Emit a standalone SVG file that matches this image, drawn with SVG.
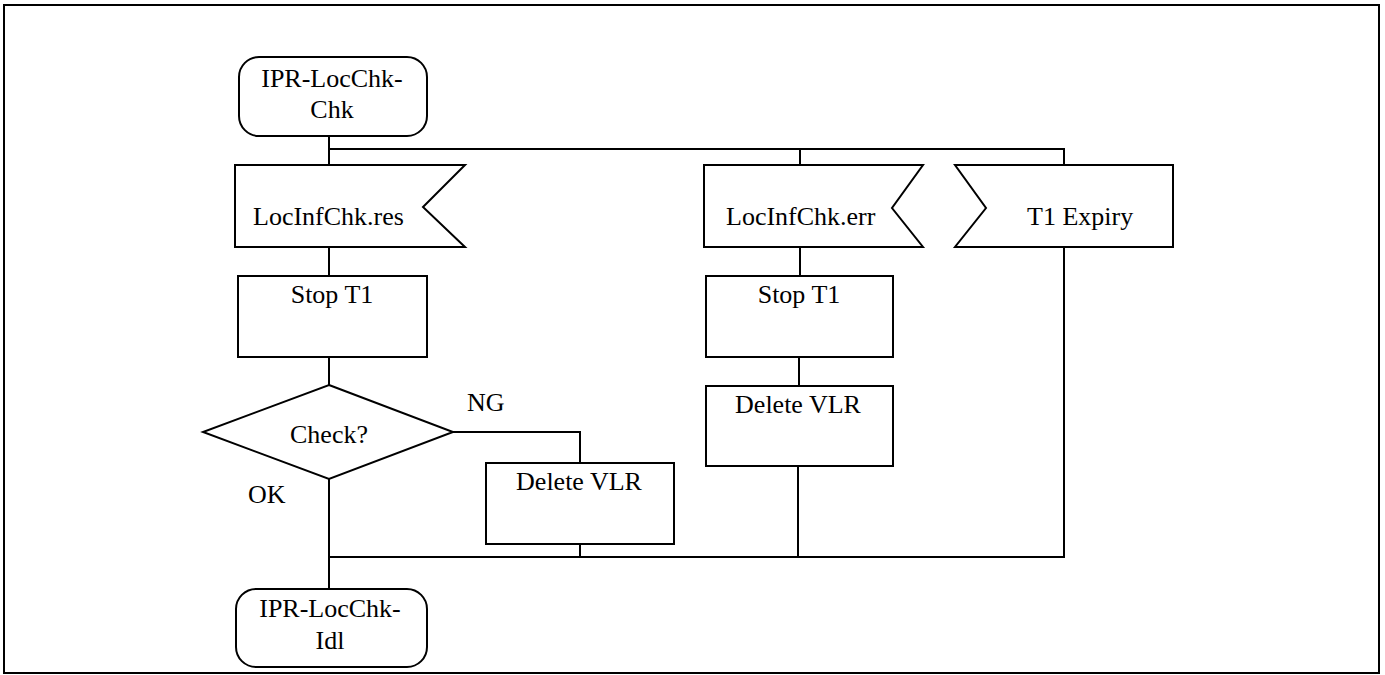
<svg xmlns="http://www.w3.org/2000/svg" width="1385" height="675" viewBox="0 0 1385 675">
<style>
.s{fill:#fff;stroke:#000;stroke-width:2}
.c{fill:none;stroke:#000;stroke-width:2}
.t{font-family:'Liberation Serif','Times New Roman',serif;font-size:26px;fill:#000}
.m{text-anchor:middle}
</style>
<rect x="0" y="0" width="1385" height="675" fill="#fff"/>
<rect x="4" y="5" width="1375" height="668" class="c"/>
<g id="connectors">
<path class="c" d="M329 136V165M329 149H1064V165M800 149V165M329 247V276M329 357V385M329 479V590M453 432H580V463M580 544V557M329 557H1064V247M800 247V276M799 357V386M798 466V557"/>
</g>
<g id="start">
<rect class="s" x="239" y="57" width="188" height="79" rx="20"/>
<text class="t m" x="332" y="87">IPR-LocChk-</text>
<text class="t m" x="332" y="118">Chk</text>
</g>
<g id="res">
<path class="s" d="M235 165H465L423 207L465 247H235Z"/>
<text class="t" x="253" y="225">LocInfChk.res</text>
</g>
<g id="stop1">
<rect class="s" x="238" y="276" width="189" height="81"/>
<text class="t m" x="332" y="303">Stop T1</text>
</g>
<g id="check">
<path class="s" d="M329 385L453 432L329 479L203 432Z"/>
<text class="t m" x="329" y="443">Check?</text>
</g>
<text class="t" x="467" y="411">NG</text>
<text class="t" x="248" y="503">OK</text>
<g id="del1">
<rect class="s" x="486" y="463" width="188" height="81"/>
<text class="t m" x="579" y="490">Delete VLR</text>
</g>
<g id="err">
<path class="s" d="M704 165H923L892 208L923 247H704Z"/>
<text class="t" x="726" y="225">LocInfChk.err</text>
</g>
<g id="stop2">
<rect class="s" x="706" y="276" width="187" height="81"/>
<text class="t m" x="799" y="303">Stop T1</text>
</g>
<g id="del2">
<rect class="s" x="706" y="386" width="187" height="80"/>
<text class="t m" x="798" y="413">Delete VLR</text>
</g>
<g id="expiry">
<path class="s" d="M955 165H1173V247H955L986 208Z"/>
<text class="t" x="1027" y="225">T1 Expiry</text>
</g>
<g id="end">
<rect class="s" x="236" y="589" width="191" height="78" rx="20"/>
<text class="t m" x="330" y="617">IPR-LocChk-</text>
<text class="t m" x="330" y="649">Idl</text>
</g>
</svg>
